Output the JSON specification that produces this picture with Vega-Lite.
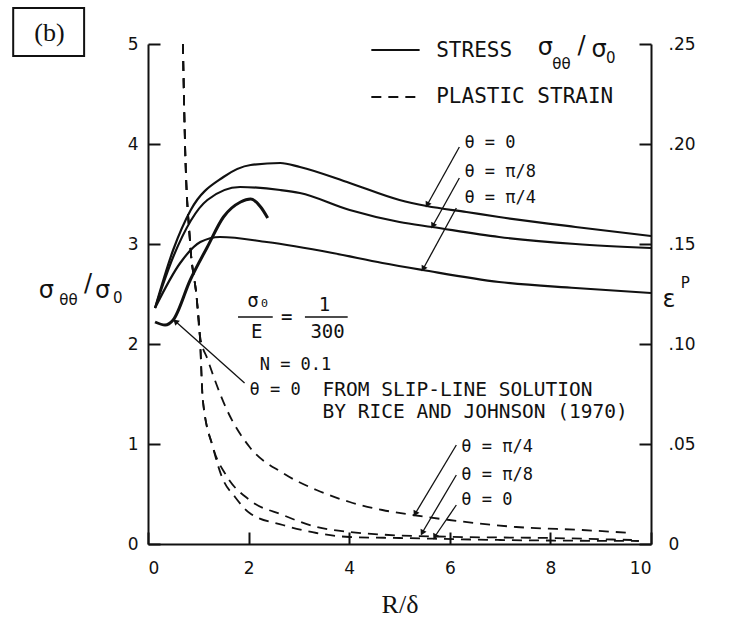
{
  "$schema": "https://vega.github.io/schema/vega-lite/v6.json",
  "width": 503,
  "height": 500,
  "autosize": {"type": "none"},
  "padding": {"left": 148, "top": 44, "right": 92, "bottom": 73},
  "background": "white",
  "config": {
    "view": {"stroke": null},
    "axis": {
      "grid": false,
      "domainColor": "#111",
      "domainWidth": 2,
      "tickColor": "#111",
      "tickWidth": 2,
      "labelColor": "#111",
      "labelFont": "DejaVu Sans",
      "labelFontSize": 17,
      "titleColor": "#111"
    },
    "line": {"color": "#111"},
    "rule": {"color": "#111"},
    "text": {"color": "#111"},
    "point": {"color": "#111"}
  },
  "datasets": {
    "stress": [
      {"curve": "θ=0", "x": 0.14, "y": 2.36},
      {"curve": "θ=0", "x": 0.5, "y": 2.94},
      {"curve": "θ=0", "x": 0.85, "y": 3.34},
      {"curve": "θ=0", "x": 1.5, "y": 3.67},
      {"curve": "θ=0", "x": 2.04, "y": 3.79},
      {"curve": "θ=0", "x": 2.63, "y": 3.81},
      {"curve": "θ=0", "x": 3.02, "y": 3.77},
      {"curve": "θ=0", "x": 4.01, "y": 3.61},
      {"curve": "θ=0", "x": 5.0, "y": 3.44},
      {"curve": "θ=0", "x": 5.54, "y": 3.38},
      {"curve": "θ=0", "x": 6.33, "y": 3.32},
      {"curve": "θ=0", "x": 6.98, "y": 3.27},
      {"curve": "θ=0", "x": 8.5, "y": 3.17},
      {"curve": "θ=0", "x": 10, "y": 3.08},
      {"curve": "θ=π/8", "x": 0.14, "y": 2.36},
      {"curve": "θ=π/8", "x": 0.5, "y": 2.87},
      {"curve": "θ=π/8", "x": 1.18, "y": 3.44},
      {"curve": "θ=π/8", "x": 1.83, "y": 3.57},
      {"curve": "θ=π/8", "x": 2.63, "y": 3.54},
      {"curve": "θ=π/8", "x": 3.02, "y": 3.51},
      {"curve": "θ=π/8", "x": 4.01, "y": 3.34},
      {"curve": "θ=π/8", "x": 5.0, "y": 3.22},
      {"curve": "θ=π/8", "x": 5.65, "y": 3.17},
      {"curve": "θ=π/8", "x": 6.98, "y": 3.07},
      {"curve": "θ=π/8", "x": 8.5, "y": 3.0},
      {"curve": "θ=π/8", "x": 10, "y": 2.96},
      {"curve": "θ=π/4", "x": 0.14, "y": 2.36},
      {"curve": "θ=π/4", "x": 0.64, "y": 2.81},
      {"curve": "θ=π/4", "x": 1.04, "y": 3.02},
      {"curve": "θ=π/4", "x": 1.43, "y": 3.07},
      {"curve": "θ=π/4", "x": 2.36, "y": 3.02},
      {"curve": "θ=π/4", "x": 3.67, "y": 2.91},
      {"curve": "θ=π/4", "x": 4.66, "y": 2.81},
      {"curve": "θ=π/4", "x": 5.46, "y": 2.74},
      {"curve": "θ=π/4", "x": 6.98, "y": 2.62},
      {"curve": "θ=π/4", "x": 8.5, "y": 2.56},
      {"curve": "θ=π/4", "x": 10, "y": 2.51}
    ],
    "slip": [
      {"x": 0.14, "y": 2.22},
      {"x": 0.34, "y": 2.19},
      {"x": 0.5, "y": 2.24},
      {"x": 0.84, "y": 2.64},
      {"x": 1.18, "y": 2.97},
      {"x": 1.5, "y": 3.27},
      {"x": 1.84, "y": 3.42},
      {"x": 2.04, "y": 3.45},
      {"x": 2.24, "y": 3.37},
      {"x": 2.38, "y": 3.26}
    ],
    "strain": [
      {"curve": "θ=0", "x": 0.694, "e": 0.25},
      {"curve": "θ=0", "x": 0.734, "e": 0.202},
      {"curve": "θ=0", "x": 0.833, "e": 0.152},
      {"curve": "θ=0", "x": 0.972, "e": 0.122},
      {"curve": "θ=0", "x": 1.03, "e": 0.1045},
      {"curve": "θ=0", "x": 1.09, "e": 0.072},
      {"curve": "θ=0", "x": 1.29, "e": 0.0485},
      {"curve": "θ=0", "x": 1.47, "e": 0.0335},
      {"curve": "θ=0", "x": 1.73, "e": 0.0235},
      {"curve": "θ=0", "x": 2.02, "e": 0.0155},
      {"curve": "θ=0", "x": 2.68, "e": 0.0095},
      {"curve": "θ=0", "x": 3.35, "e": 0.0055},
      {"curve": "θ=0", "x": 4.01, "e": 0.0035},
      {"curve": "θ=0", "x": 5.0, "e": 0.003},
      {"curve": "θ=0", "x": 7.0, "e": 0.002},
      {"curve": "θ=0", "x": 9.76, "e": 0.0015},
      {"curve": "θ=π/8", "x": 0.694, "e": 0.25},
      {"curve": "θ=π/8", "x": 0.734, "e": 0.202},
      {"curve": "θ=π/8", "x": 0.833, "e": 0.152},
      {"curve": "θ=π/8", "x": 0.972, "e": 0.122},
      {"curve": "θ=π/8", "x": 1.03, "e": 0.1045},
      {"curve": "θ=π/8", "x": 1.09, "e": 0.072},
      {"curve": "θ=π/8", "x": 1.29, "e": 0.0485},
      {"curve": "θ=π/8", "x": 1.55, "e": 0.0345},
      {"curve": "θ=π/8", "x": 2.02, "e": 0.022},
      {"curve": "θ=π/8", "x": 2.68, "e": 0.0145},
      {"curve": "θ=π/8", "x": 3.35, "e": 0.0085},
      {"curve": "θ=π/8", "x": 4.01, "e": 0.006},
      {"curve": "θ=π/8", "x": 4.66, "e": 0.0047},
      {"curve": "θ=π/8", "x": 5.99, "e": 0.0036},
      {"curve": "θ=π/8", "x": 7.98, "e": 0.003},
      {"curve": "θ=π/8", "x": 9.62, "e": 0.002},
      {"curve": "θ=π/4", "x": 0.694, "e": 0.25},
      {"curve": "θ=π/4", "x": 0.734, "e": 0.202},
      {"curve": "θ=π/4", "x": 0.833, "e": 0.152},
      {"curve": "θ=π/4", "x": 0.972, "e": 0.122},
      {"curve": "θ=π/4", "x": 1.03, "e": 0.1045},
      {"curve": "θ=π/4", "x": 1.19, "e": 0.092},
      {"curve": "θ=π/4", "x": 1.57, "e": 0.067},
      {"curve": "θ=π/4", "x": 2.02, "e": 0.0485},
      {"curve": "θ=π/4", "x": 2.68, "e": 0.0355},
      {"curve": "θ=π/4", "x": 3.35, "e": 0.027},
      {"curve": "θ=π/4", "x": 4.01, "e": 0.021},
      {"curve": "θ=π/4", "x": 4.66, "e": 0.017},
      {"curve": "θ=π/4", "x": 5.26, "e": 0.0145},
      {"curve": "θ=π/4", "x": 5.99, "e": 0.012},
      {"curve": "θ=π/4", "x": 7.32, "e": 0.0085},
      {"curve": "θ=π/4", "x": 8.63, "e": 0.007},
      {"curve": "θ=π/4", "x": 9.62, "e": 0.0055}
    ],
    "arrows": [
      {"id": "stress θ=0", "x": 6.19, "y": 3.97, "x2": 5.56, "y2": 3.40},
      {"id": "stress θ=π/8", "x": 6.19, "y": 3.66, "x2": 5.67, "y2": 3.19},
      {"id": "stress θ=π/4", "x": 6.13, "y": 3.36, "x2": 5.48, "y2": 2.76},
      {"id": "slip", "x": 1.92, "y": 1.61, "x2": 0.56, "y2": 2.22},
      {"id": "strain θ=π/4", "x": 6.13, "y": 0.99, "x2": 5.32, "y2": 0.31},
      {"id": "strain θ=π/8", "x": 6.13, "y": 0.69, "x2": 5.46, "y2": 0.12},
      {"id": "strain θ=0", "x": 6.13, "y": 0.39, "x2": 5.71, "y2": 0.08}
    ],
    "labels": [
      {"x": 6.29, "y": 4.01, "t": "θ = 0"},
      {"x": 6.29, "y": 3.72, "t": "θ = π/8"},
      {"x": 6.29, "y": 3.46, "t": "θ = π/4"},
      {"x": 6.23, "y": 0.97, "t": "θ = π/4"},
      {"x": 6.23, "y": 0.69, "t": "θ = π/8"},
      {"x": 6.23, "y": 0.44, "t": "θ = 0"},
      {"x": 2.22, "y": 1.79, "t": "N = 0.1"},
      {"x": 2.02, "y": 1.54, "t": "θ = 0"}
    ],
    "notes": [
      {"x": 3.47, "y": 1.54, "t": "FROM SLIP-LINE SOLUTION"},
      {"x": 3.47, "y": 1.32, "t": "BY RICE AND JOHNSON (1970)"}
    ],
    "legendText": [
      {"x": 5.73, "y": 4.93, "t": "STRESS"},
      {"x": 5.73, "y": 4.47, "t": "PLASTIC STRAIN"}
    ],
    "legendSolid": [{"x": 4.44, "x2": 5.4, "y": 4.94}],
    "legendDashed": [{"x": 4.44, "x2": 5.4, "y": 4.47}],
    "fraction": [
      {"x": 2.2, "y": 2.43, "t": "σ₀"},
      {"x": 2.16, "y": 2.12, "t": "E"},
      {"x": 2.76, "y": 2.27, "t": "="},
      {"x": 3.51, "y": 2.39, "t": "1"},
      {"x": 3.57, "y": 2.12, "t": "300"}
    ],
    "fractionBars": [
      {"x": 1.79, "x2": 2.48, "y": 2.27},
      {"x": 3.12, "x2": 3.97, "y": 2.27}
    ],
    "bigGlyphs": [
      {"x": 7.9, "y": 4.96, "t": "σ"},
      {"x": 8.62, "y": 4.98, "t": "/"},
      {"x": 8.97, "y": 4.94, "t": "σ"},
      {"x": -2.02, "y": 2.53, "t": "σ"},
      {"x": -1.19, "y": 2.6, "t": "/"},
      {"x": -0.9, "y": 2.53, "t": "σ"},
      {"x": 10.36, "y": 2.44, "t": "ε"}
    ],
    "smallGlyphs": [
      {"x": 8.22, "y": 4.8, "t": "θθ"},
      {"x": 9.2, "y": 4.86, "t": "0"},
      {"x": -1.58, "y": 2.44, "t": "θθ"},
      {"x": -0.6, "y": 2.46, "t": "0"},
      {"x": 10.68, "y": 2.61, "t": "P"}
    ],
    "panel": [{"x": -2.68, "x2": -1.27, "y": 5.36, "y2": 4.88, "t": "(b)", "cx": -1.96, "cy": 5.11}]
  },
  "layer": [
    {
      "data": {"name": "stress"},
      "mark": {"type": "line", "interpolate": "monotone", "strokeWidth": 2.2},
      "encoding": {
        "x": {
          "field": "x",
          "type": "quantitative",
          "scale": {"domain": [0, 10], "nice": false, "zero": false},
          "axis": {
            "orient": "bottom",
            "values": [0, 2, 4, 6, 8, 10],
            "tickSize": -12,
            "labelPadding": 28,
            "title": "R/δ",
            "titleFont": "Liberation Serif",
            "titleFontSize": 26,
            "titleFontWeight": "normal",
            "titleY": 68,
            "titleBaseline": "alphabetic"
          }
        },
        "y": {
          "field": "y",
          "type": "quantitative",
          "scale": {"domain": [0, 5], "nice": false, "zero": false},
          "axis": {"orient": "left", "values": [0, 1, 2, 3, 4, 5], "tickSize": -12, "labelPadding": 22, "title": null}
        },
        "detail": {"field": "curve"}
      }
    },
    {
      "data": {"name": "slip"},
      "mark": {"type": "line", "interpolate": "monotone", "strokeWidth": 3},
      "encoding": {
        "x": {"field": "x", "type": "quantitative", "scale": {"domain": [0, 10], "nice": false, "zero": false}, "axis": null},
        "y": {"field": "y", "type": "quantitative", "scale": {"domain": [0, 5], "nice": false, "zero": false}, "axis": null}
      }
    },
    {
      "data": {"name": "strain"},
      "mark": {"type": "line", "interpolate": "monotone", "strokeWidth": 1.8, "strokeDash": [10, 7]},
      "encoding": {
        "x": {"field": "x", "type": "quantitative", "scale": {"domain": [0, 10], "nice": false, "zero": false}, "axis": null},
        "y": {
          "field": "e",
          "type": "quantitative",
          "scale": {"domain": [0, 0.25], "nice": false, "zero": false},
          "axis": {
            "orient": "right",
            "values": [0, 0.05, 0.1, 0.15, 0.2, 0.25],
            "tickSize": -12,
            "labelPadding": 29,
            "labelAlign": "left",
            "labelExpr": "datum.value === 0 ? '0' : replace(format(datum.value, '.2f'), '0.', '.')",
            "title": null
          }
        },
        "detail": {"field": "curve"}
      }
    },
    {
      "data": {"name": "arrows"},
      "mark": {"type": "rule", "strokeWidth": 1.3},
      "encoding": {
        "x": {"field": "x", "type": "quantitative", "scale": {"domain": [0, 10], "nice": false, "zero": false}, "axis": null},
        "y": {"field": "y", "type": "quantitative", "scale": {"domain": [0, 5], "nice": false, "zero": false}, "axis": null},
        "x2": {"field": "x2"},
        "y2": {"field": "y2"}
      }
    },
    {
      "data": {"name": "arrows"},
      "mark": {"type": "point", "shape": "triangle", "filled": true, "size": 45, "opacity": 1},
      "encoding": {
        "x": {"field": "x2", "type": "quantitative", "scale": {"domain": [0, 10], "nice": false, "zero": false}, "axis": null},
        "y": {"field": "y2", "type": "quantitative", "scale": {"domain": [0, 5], "nice": false, "zero": false}, "axis": null},
        "angle": {"condition": {"test": "datum.id === 'slip'", "value": 312}, "value": 208}
      }
    },
    {
      "data": {"name": "labels"},
      "mark": {"type": "text", "font": "DejaVu Sans Mono", "fontSize": 17, "align": "left", "baseline": "middle"},
      "encoding": {
        "x": {"field": "x", "type": "quantitative", "scale": {"domain": [0, 10], "nice": false, "zero": false}, "axis": null},
        "y": {"field": "y", "type": "quantitative", "scale": {"domain": [0, 5], "nice": false, "zero": false}, "axis": null},
        "text": {"field": "t"}
      }
    },
    {
      "data": {"name": "notes"},
      "mark": {"type": "text", "font": "DejaVu Sans Mono", "fontSize": 19.5, "align": "left", "baseline": "middle"},
      "encoding": {
        "x": {"field": "x", "type": "quantitative", "scale": {"domain": [0, 10], "nice": false, "zero": false}, "axis": null},
        "y": {"field": "y", "type": "quantitative", "scale": {"domain": [0, 5], "nice": false, "zero": false}, "axis": null},
        "text": {"field": "t"}
      }
    },
    {
      "data": {"name": "legendText"},
      "mark": {"type": "text", "font": "DejaVu Sans Mono", "fontSize": 21, "align": "left", "baseline": "middle"},
      "encoding": {
        "x": {"field": "x", "type": "quantitative", "scale": {"domain": [0, 10], "nice": false, "zero": false}, "axis": null},
        "y": {"field": "y", "type": "quantitative", "scale": {"domain": [0, 5], "nice": false, "zero": false}, "axis": null},
        "text": {"field": "t"}
      }
    },
    {
      "data": {"name": "legendSolid"},
      "mark": {"type": "rule", "strokeWidth": 2.2},
      "encoding": {
        "x": {"field": "x", "type": "quantitative", "scale": {"domain": [0, 10], "nice": false, "zero": false}, "axis": null},
        "y": {"field": "y", "type": "quantitative", "scale": {"domain": [0, 5], "nice": false, "zero": false}, "axis": null},
        "x2": {"field": "x2"}
      }
    },
    {
      "data": {"name": "legendDashed"},
      "mark": {"type": "rule", "strokeWidth": 1.8, "strokeDash": [10, 7]},
      "encoding": {
        "x": {"field": "x", "type": "quantitative", "scale": {"domain": [0, 10], "nice": false, "zero": false}, "axis": null},
        "y": {"field": "y", "type": "quantitative", "scale": {"domain": [0, 5], "nice": false, "zero": false}, "axis": null},
        "x2": {"field": "x2"}
      }
    },
    {
      "data": {"name": "fraction"},
      "mark": {"type": "text", "font": "DejaVu Sans Mono", "fontSize": 19, "align": "center", "baseline": "middle"},
      "encoding": {
        "x": {"field": "x", "type": "quantitative", "scale": {"domain": [0, 10], "nice": false, "zero": false}, "axis": null},
        "y": {"field": "y", "type": "quantitative", "scale": {"domain": [0, 5], "nice": false, "zero": false}, "axis": null},
        "text": {"field": "t"}
      }
    },
    {
      "data": {"name": "fractionBars"},
      "mark": {"type": "rule", "strokeWidth": 1.5},
      "encoding": {
        "x": {"field": "x", "type": "quantitative", "scale": {"domain": [0, 10], "nice": false, "zero": false}, "axis": null},
        "y": {"field": "y", "type": "quantitative", "scale": {"domain": [0, 5], "nice": false, "zero": false}, "axis": null},
        "x2": {"field": "x2"}
      }
    },
    {
      "data": {"name": "bigGlyphs"},
      "mark": {"type": "text", "font": "DejaVu Sans", "fontSize": 24, "align": "center", "baseline": "middle"},
      "encoding": {
        "x": {"field": "x", "type": "quantitative", "scale": {"domain": [0, 10], "nice": false, "zero": false}, "axis": null},
        "y": {"field": "y", "type": "quantitative", "scale": {"domain": [0, 5], "nice": false, "zero": false}, "axis": null},
        "text": {"field": "t"}
      }
    },
    {
      "data": {"name": "smallGlyphs"},
      "mark": {"type": "text", "font": "DejaVu Sans", "fontSize": 15, "align": "center", "baseline": "middle"},
      "encoding": {
        "x": {"field": "x", "type": "quantitative", "scale": {"domain": [0, 10], "nice": false, "zero": false}, "axis": null},
        "y": {"field": "y", "type": "quantitative", "scale": {"domain": [0, 5], "nice": false, "zero": false}, "axis": null},
        "text": {"field": "t"}
      }
    },
    {
      "data": {"name": "panel"},
      "mark": {"type": "rect", "fill": "white", "stroke": "#111", "strokeWidth": 2},
      "encoding": {
        "x": {"field": "x", "type": "quantitative", "scale": {"domain": [0, 10], "nice": false, "zero": false}, "axis": null},
        "y": {"field": "y", "type": "quantitative", "scale": {"domain": [0, 5], "nice": false, "zero": false}, "axis": null},
        "x2": {"field": "x2"},
        "y2": {"field": "y2"}
      }
    },
    {
      "data": {"name": "panel"},
      "mark": {"type": "text", "font": "Liberation Serif", "fontSize": 26, "align": "center", "baseline": "middle"},
      "encoding": {
        "x": {"field": "cx", "type": "quantitative", "scale": {"domain": [0, 10], "nice": false, "zero": false}, "axis": null},
        "y": {"field": "cy", "type": "quantitative", "scale": {"domain": [0, 5], "nice": false, "zero": false}, "axis": null},
        "text": {"field": "t"}
      }
    }
  ],
  "resolve": {"scale": {"y": "independent"}, "axis": {"x": "independent"}}
}
